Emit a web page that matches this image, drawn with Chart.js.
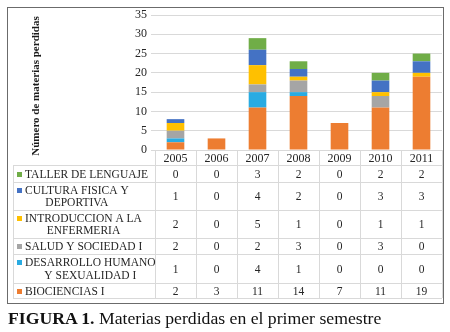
<!DOCTYPE html>
<html>
<head>
<meta charset="utf-8">
<script src="https://cdn.jsdelivr.net/npm/chart.js@4/dist/chart.umd.min.js"></script>
<style>
  body { margin: 0; background: #fff; }
  #wrap { position: relative; width: 450px; height: 332px; }
  #caption {
    position: absolute; left: 8px; top: 308px;
    font-family: "Liberation Serif", "Times New Roman", serif;
    font-size: 17.7px; color: #111; white-space: nowrap;
  }
</style>
</head>
<body>
<div id="wrap">
  <canvas id="chart" width="450" height="332"></canvas>
  <div id="caption"><b>FIGURA 1.</b> Materias perdidas en el primer semestre</div>
</div>
<script>
// datos
var years = ['2005', '2006', '2007', '2008', '2009', '2010', '2011'];
var biociencias  = [2, 3, 11, 14, 7, 11, 19];
var desarrollo   = [1, 0, 4, 1, 0, 0, 0];
var salud        = [2, 0, 2, 3, 0, 3, 0];
var introduccion = [2, 0, 5, 1, 0, 1, 1];
var cultura      = [1, 0, 4, 2, 0, 3, 3];
var taller       = [0, 0, 3, 2, 0, 2, 2];
var yTicks = [0, 5, 10, 15, 20, 25, 30, 35];
var yTitle = 'Número de materias perdidas';

var serif = "'Liberation Serif', 'Times New Roman', serif";

// de abajo hacia arriba en la pila
const datasets = [
    { label: ['BIOCIENCIAS I'], data: biociencias, backgroundColor: '#ED7D31' },
    { label: ['DESARROLLO HUMANO', 'Y SEXUALIDAD I'], data: desarrollo, backgroundColor: '#29ABE2' },
    { label: ['SALUD Y SOCIEDAD I'], data: salud, backgroundColor: '#A5A5A5' },
    { label: ['INTRODUCCION A LA', 'ENFERMERIA'], data: introduccion, backgroundColor: '#FFC000' },
    { label: ['CULTURA FISICA Y', 'DEPORTIVA'], data: cultura, backgroundColor: '#4472C4' },
    { label: ['TALLER DE LENGUAJE'], data: taller, backgroundColor: '#70AD47' }
];

// filas de la tabla (limites verticales), de arriba a abajo
const rowLines = [165, 182, 210, 238, 254, 283, 298];
const tableLeft = 13;

const dataTable = {
    id: 'dataTable',
    afterDraw(chart) {
        const ctx = chart.ctx;
        const xs = chart.scales.x;
        const area = chart.chartArea;
        const colW = xs.width / years.length;
        ctx.save();

        // marco exterior
        ctx.strokeStyle = '#6b6b6b';
        ctx.lineWidth = 1;
        ctx.strokeRect(7.5, 7.5, 436, 296);

        // titulo del eje y
        ctx.save();
        ctx.translate(36, 86);
        ctx.rotate(-Math.PI / 2);
        ctx.font = 'bold 11px ' + serif;
        ctx.fillStyle = '#1a1a1a';
        ctx.textAlign = 'center';
        ctx.textBaseline = 'middle';
        ctx.fillText(yTitle, 0, 0);
        ctx.restore();

        // lineas de la tabla
        ctx.strokeStyle = '#d9d9d9';
        ctx.beginPath();
        ctx.moveTo(area.left, area.bottom + 0.5);
        ctx.lineTo(area.right, area.bottom + 0.5);
        rowLines.forEach(y => {
            ctx.moveTo(tableLeft, y + 0.5);
            ctx.lineTo(area.right, y + 0.5);
        });
        for (let i = 0; i <= years.length; i++) {
            const x = Math.round(area.left + i * colW) + 0.5;
            ctx.moveTo(x, area.bottom);
            ctx.lineTo(x, rowLines[rowLines.length - 1]);
        }
        ctx.moveTo(tableLeft + 0.5, rowLines[0]);
        ctx.lineTo(tableLeft + 0.5, rowLines[rowLines.length - 1]);
        ctx.stroke();

        ctx.fillStyle = '#262626';
        ctx.textAlign = 'center';
        ctx.textBaseline = 'middle';

        // encabezado de anos
        ctx.font = '12px ' + serif;
        years.forEach((yr, i) => {
            ctx.fillText(yr, xs.getPixelForValue(i), (area.bottom + rowLines[0]) / 2 + 1);
        });

        // filas
        const rows = datasets.slice().reverse();
        rows.forEach((ds, r) => {
            const top = rowLines[r], bottom = rowLines[r + 1];
            const mid = (top + bottom) / 2 + 1;
            ctx.font = '11.5px ' + serif;
            ctx.textAlign = 'center';
            ds.data.forEach((v, i) => {
                ctx.fillText(String(v), xs.getPixelForValue(i), mid);
            });
            // etiqueta
            const lines = ds.label;
            const widths = lines.map(l => ctx.measureText(l).width);
            const maxW = Math.max(...widths);
            const x0 = 25;
            const lh = 12.7;
            const y0 = mid - (lines.length - 1) * lh / 2;
            lines.forEach((l, k) => {
                ctx.fillText(l, x0 + maxW / 2, y0 + k * lh);
            });
            ctx.fillStyle = ds.backgroundColor;
            ctx.fillRect(17, Math.round(y0 - 3), 5, 5);
            ctx.fillStyle = '#262626';
        });
        ctx.restore();
    }
};

new Chart('chart', {
    type: 'bar',
    data: { labels: years, datasets: datasets },
    options: {
        responsive: false,
        animation: false,
        layout: { padding: { top: 15, right: 8, bottom: 182, left: 0 } },
        datasets: { bar: { barPercentage: 0.43, categoryPercentage: 1, borderWidth: 0 } },
        plugins: { legend: { display: false }, tooltip: { enabled: false } },
        scales: {
            x: {
                stacked: true,
                display: false
            },
            y: {
                stacked: true,
                min: 0, max: 35,
                afterBuildTicks: s => { s.ticks = yTicks.map(v => ({ value: v })); },
                afterFit: s => { s.width = 155; },
                border: { display: false },
                grid: { color: '#d9d9d9', tickLength: 4, tickColor: '#d9d9d9' },
                ticks: { color: '#262626', padding: 4, font: { family: serif, size: 12 } }
            }
        }
    },
    plugins: [dataTable]
});
</script>
</body>
</html>
